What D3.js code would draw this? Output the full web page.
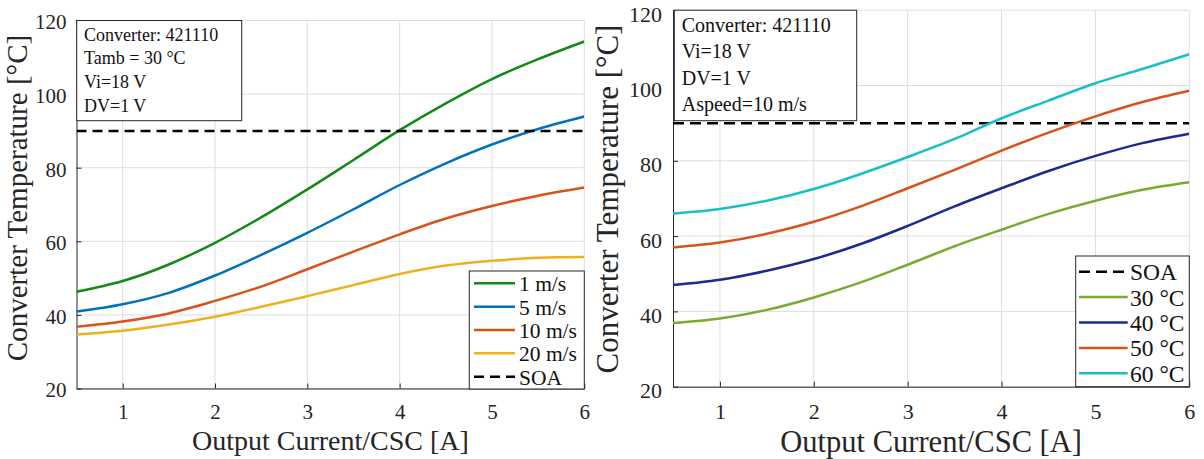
<!DOCTYPE html>
<html>
<head>
<meta charset="utf-8">
<script src="https://cdn.jsdelivr.net/npm/d3@7"></script>
<style>
  html, body { margin: 0; padding: 0; background: #fff; }
  svg { display: block; }
  svg text { font-family: "Liberation Serif", "DejaVu Serif", serif !important; }
</style>
</head>
<body>
<svg id="chart" width="1204" height="459"></svg>
<script>
// Output current sample points [A]
const currentA = [0.5, 1, 1.5, 2, 2.5, 3, 3.5, 4, 4.5, 5, 5.5, 6];

// Left panel: converter temperature vs. air speed (Tamb = 30 °C)
const speedLabels = ["1 m/s", "5 m/s", "10 m/s", "20 m/s"];
const temp1ms  = [46.3, 49.2, 53.7, 59.6, 66.5, 74.1, 82.1, 90.2, 97.5, 104.1, 109.5, 114.3];
const temp5ms  = [40.9, 42.9, 46.0, 50.7, 56.3, 62.3, 68.7, 75.3, 81.2, 86.3, 90.5, 93.9];
const temp10ms = [36.8, 38.2, 40.4, 43.8, 47.7, 52.4, 57.2, 61.9, 66.2, 69.6, 72.4, 74.6];
const temp20ms = [34.7, 35.7, 37.4, 39.5, 42.2, 45.1, 48.1, 51.1, 53.4, 54.7, 55.5, 55.7];
const speedColors = ["#138a13", "#0072BD", "#D95319", "#EDB120"];

// Right panel: converter temperature vs. ambient temperature (air speed 10 m/s)
const ambientLabels = ["30 °C", "40 °C", "50 °C", "60 °C"];
const temp30C = [36.9, 38.1, 40.4, 43.7, 47.7, 52.4, 57.3, 61.7, 65.9, 69.4, 72.3, 74.3];
const temp40C = [47.0, 48.4, 50.8, 53.9, 57.9, 62.7, 67.9, 72.7, 77.3, 81.3, 84.7, 87.2];
const temp50C = [57.0, 58.3, 60.6, 63.8, 67.9, 72.7, 77.6, 82.7, 87.5, 91.8, 95.6, 98.6];
const temp60C = [66.0, 67.2, 69.4, 72.5, 76.5, 81.0, 85.8, 91.3, 96.0, 100.6, 104.4, 108.3];
const ambientColors = ["#77AC30", "#1c2b8f", "#D95319", "#18C0C4"];

// Safe operating area limit [°C]
const soaLimit = 90;
const soaLabel = "SOA";

const xTicks = [1, 2, 3, 4, 5, 6];
const yTicks = [20, 40, 60, 80, 100, 120];
const xDomain = [0.5, 6];
const yDomain = [20, 120];

const leftNotes = ["Converter: 421110", "Tamb = 30 °C", "Vi=18 V", "DV=1 V"];
const rightNotes = ["Converter: 421110", "Vi=18 V", "DV=1 V", "Aspeed=10 m/s"];

const xTitle = "Output Current/CSC [A]";
const yTitle = "Converter Temperature [°C]";

const ink = "#262626";
const svg = d3.select("#chart");

function drawPanel(p) {
  const x = d3.scaleLinear().domain(xDomain).range([p.left, p.right]);
  const y = d3.scaleLinear().domain(yDomain).range([p.bottom, p.top]);
  const g = svg.append("g");
  const clipId = "clip-" + p.id;
  g.append("clipPath").attr("id", clipId)
    .append("rect").attr("x", p.left).attr("y", p.top)
    .attr("width", p.right - p.left).attr("height", p.bottom - p.top);

  // grid
  g.append("g").selectAll("line").data(xTicks).join("line")
    .attr("x1", d => x(d)).attr("x2", d => x(d))
    .attr("y1", p.top).attr("y2", p.bottom)
    .attr("stroke", "#dedede").attr("stroke-width", 1);
  g.append("g").selectAll("line").data(yTicks).join("line")
    .attr("x1", p.left).attr("x2", p.right)
    .attr("y1", d => y(d)).attr("y2", d => y(d))
    .attr("stroke", "#dedede").attr("stroke-width", 1);

  // axes with inward ticks
  const xAxis = d3.axisBottom(x).tickValues(xTicks).tickSize(-5).tickSizeOuter(0).tickPadding(0).tickFormat(d3.format("d"));
  const yAxis = d3.axisLeft(y).tickValues(yTicks).tickSize(-5).tickSizeOuter(0).tickPadding(0).tickFormat(d3.format("d"));
  const gx = g.append("g").attr("transform", `translate(0,${p.bottom})`).call(xAxis);
  const gy = g.append("g").attr("transform", `translate(${p.left},0)`).call(yAxis);
  [gx, gy].forEach(a => {
    a.attr("font-family", null);
    a.select(".domain").attr("stroke", ink).attr("stroke-width", 1);
    a.selectAll(".tick line").attr("stroke", ink);
    a.selectAll(".tick text").attr("fill", ink).attr("font-size", p.tickFont);
  });
  gx.selectAll(".tick text").attr("dy", null).attr("y", p.xTickY);
  gy.selectAll(".tick text").attr("x", p.yTickX).attr("dy", p.yTickDy);

  const line = d3.line().x((d, i) => x(currentA[i])).y(d => y(d)).curve(d3.curveCatmullRom.alpha(0.5));
  const soaLine = d3.line().x(d => x(d)).y(() => y(soaLimit));
  const plot = g.append("g").attr("clip-path", `url(#${clipId})`);

  const drawSoa = () => plot.append("path").datum(xDomain)
    .attr("d", soaLine).attr("fill", "none").attr("stroke", "#000")
    .attr("stroke-width", 2.5).attr("stroke-dasharray", p.dash);

  if (p.soaFirst) drawSoa();
  p.series.forEach((s, k) => {
    plot.append("path").datum(s).attr("d", line).attr("fill", "none")
      .attr("stroke", p.colors[k]).attr("stroke-width", 2.5);
  });
  if (!p.soaFirst) drawSoa();

  // note box
  const nb = p.noteBox;
  g.append("rect").attr("x", nb.x).attr("y", nb.y).attr("width", nb.w).attr("height", nb.h)
    .attr("fill", "#fff").attr("stroke", ink).attr("stroke-width", 1);
  g.append("g").selectAll("text").data(p.notes).join("text")
    .attr("x", nb.tx).attr("y", (d, i) => nb.ty + i * nb.dy)
    .attr("font-size", nb.font).attr("fill", "#111").text(d => d);

  // legend
  const lg = p.legend;
  g.append("rect").attr("x", lg.x).attr("y", lg.y).attr("width", lg.w).attr("height", lg.h)
    .attr("fill", "#fff").attr("stroke", ink).attr("stroke-width", 1);
  const items = p.soaFirst
    ? [{ label: soaLabel, color: "#000", dash: true }].concat(p.labels.map((l, k) => ({ label: l, color: p.colors[k] })))
    : p.labels.map((l, k) => ({ label: l, color: p.colors[k] })).concat([{ label: soaLabel, color: "#000", dash: true }]);
  const li = g.append("g").selectAll("g").data(items).join("g")
    .attr("transform", (d, i) => `translate(0,${lg.firstY + i * lg.dy})`);
  li.append("line").attr("x1", lg.lx1).attr("x2", lg.lx2)
    .attr("stroke", d => d.color).attr("stroke-width", 2.5)
    .attr("stroke-dasharray", d => d.dash ? p.dash : null);
  li.append("text").attr("x", lg.tx).attr("y", lg.baseOff)
    .attr("font-size", lg.font).attr("fill", "#111").text(d => d.label);

  // axis titles
  svg.append("text").attr("x", (p.left + p.right) / 2).attr("y", p.xTitleY)
    .attr("text-anchor", "middle").attr("font-size", p.xTitleFont).attr("fill", ink).text(xTitle);
  svg.append("text").attr("transform", `translate(${p.yTitleX},${p.yTitleCy}) rotate(-90)`)
    .attr("text-anchor", "middle").attr("font-size", p.yTitleFont).attr("fill", ink).text(yTitle);
}

drawPanel({
  id: "speed", left: 76.5, right: 584.3, top: 20.5, bottom: 388.5,
  series: [temp1ms, temp5ms, temp10ms, temp20ms], colors: speedColors, labels: speedLabels,
  soaFirst: false, dash: "10,6",
  tickFont: 21, xTickY: 30, yTickX: -10, yTickDy: "0.4em",
  xTitleFont: 28, yTitleFont: 29, xTitleY: 449.5, yTitleX: 27, yTitleCy: 198,
  notes: leftNotes,
  noteBox: { x: 76.7, y: 20.5, w: 165, h: 100.2, tx: 84, ty: 40.7, dy: 23.7, font: 18 },
  legend: { x: 469.3, y: 271, w: 115, h: 118, firstY: 283.3, dy: 23.35, lx1: 474, lx2: 515, tx: 519, baseOff: 8, font: 21.5 }
});

drawPanel({
  id: "ambient", left: 673, right: 1189.3, top: 10.2, bottom: 386.7,
  series: [temp30C, temp40C, temp50C, temp60C], colors: ambientColors, labels: ambientLabels,
  soaFirst: true, dash: "11,6",
  tickFont: 22, xTickY: 32, yTickX: -11, yTickDy: "0.5em",
  xTitleFont: 30.5, yTitleFont: 31, xTitleY: 451.5, yTitleX: 618, yTitleCy: 199,
  notes: rightNotes,
  noteBox: { x: 674.3, y: 10.2, w: 182.4, h: 110.5, tx: 681.7, ty: 32.3, dy: 26.1, font: 20 },
  legend: { x: 1075.7, y: 256, w: 113.6, h: 130.7, firstY: 271.7, dy: 25.4, lx1: 1079, lx2: 1127.7, tx: 1130, baseOff: 8.5, font: 23.5 }
});
</script>
</body>
</html>
